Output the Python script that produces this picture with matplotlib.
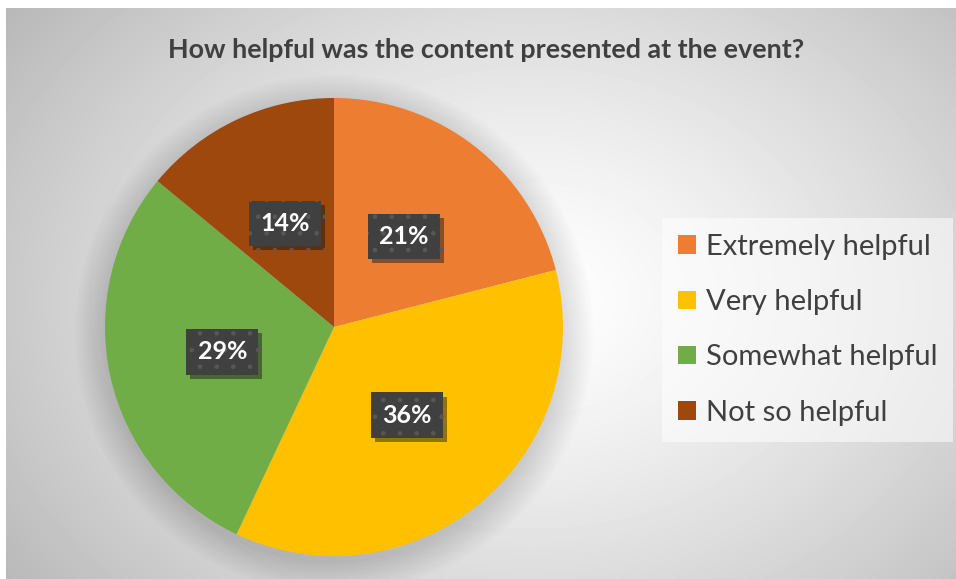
import numpy as np
import matplotlib.pyplot as plt
import matplotlib.patheffects as pe
from matplotlib.patches import Patch

categories = ["Extremely helpful", "Very helpful", "Somewhat helpful", "Not so helpful"]
shares = [21, 36, 29, 14]
colors = ["#ED7D31", "#FFC000", "#70AD47", "#9E480E"]
title = "How helpful was the content presented at the event?"

plt.rcParams['font.family'] = ['Lato', 'DejaVu Sans']
plt.rcParams['hatch.linewidth'] = 0.9

W, H = 956, 579
fig = plt.figure(figsize=(W / 100, H / 100), dpi=100)
fig.patch.set_facecolor("white")

# background: radial gradient panel
bg = fig.add_axes([6 / W, 0, 1 - 6 / W, 1 - 8 / H])
yy, xx = np.mgrid[0:571, 0:950]
d = np.sqrt(((xx - 525) / 560.0) ** 2 + ((yy - 290) / 420.0) ** 2)
shade = 1.0 - 0.23 * np.clip(d, 0, 1.15) ** 1.3
bg.imshow(shade, cmap="gray", vmin=0, vmax=1, aspect="auto", interpolation="bilinear")
bg.set_axis_off()

# pie
cx, cy, r = 334, 327, 229
ax = fig.add_axes([(cx - r) / W, (H - cy - r) / H, 2 * r / W, 2 * r / H])

# soft shadow
for k in range(12):
    ax.add_patch(plt.Circle((0.0, -0.03), 1.0 + 0.012 * k, color="black",
                            alpha=0.012, lw=0, zorder=0, clip_on=False))

wedges, texts, autotexts = ax.pie(
    shares, colors=colors, startangle=90, counterclock=False,
    autopct="%d%%", pctdistance=0.5, radius=1.0,
    wedgeprops=dict(linewidth=0), frame=True)
ax.set_xlim(-1, 1)
ax.set_ylim(-1, 1)
ax.set_axis_off()

for t in autotexts:
    t.set_color("white")
    t.set_fontsize(18)
    t.set_fontweight("bold")
    t.set_bbox(dict(boxstyle="square,pad=0.45", facecolor="#404040",
                    edgecolor="#575757", linewidth=0, hatch="."))
    t.get_bbox_patch().set_path_effects(
        [pe.SimplePatchShadow(offset=(3, -3), alpha=0.45), pe.Normal()])

fig.text(486 / W, 1 - 50 / H, title, ha="center", va="center",
         fontsize=19.4, fontweight="bold", color="#404040")

handles = [Patch(facecolor=c, edgecolor="none") for c in colors]
leg = fig.legend(handles, categories, loc="upper left",
                 bbox_to_anchor=(662 / W, 1 - 218 / H),
                 frameon=True, fontsize=21, labelspacing=1.0,
                 handlelength=0.6, handleheight=0.6, handletextpad=0.35,
                 borderpad=0.55, borderaxespad=0)
for tx in leg.get_texts():
    tx.set_color("#404040")
fr = leg.get_frame()
fr.set_facecolor("white")
fr.set_alpha(0.55)
fr.set_edgecolor("none")
fr.set_boxstyle("square", pad=0)

fig.savefig("out.png", dpi=100)
